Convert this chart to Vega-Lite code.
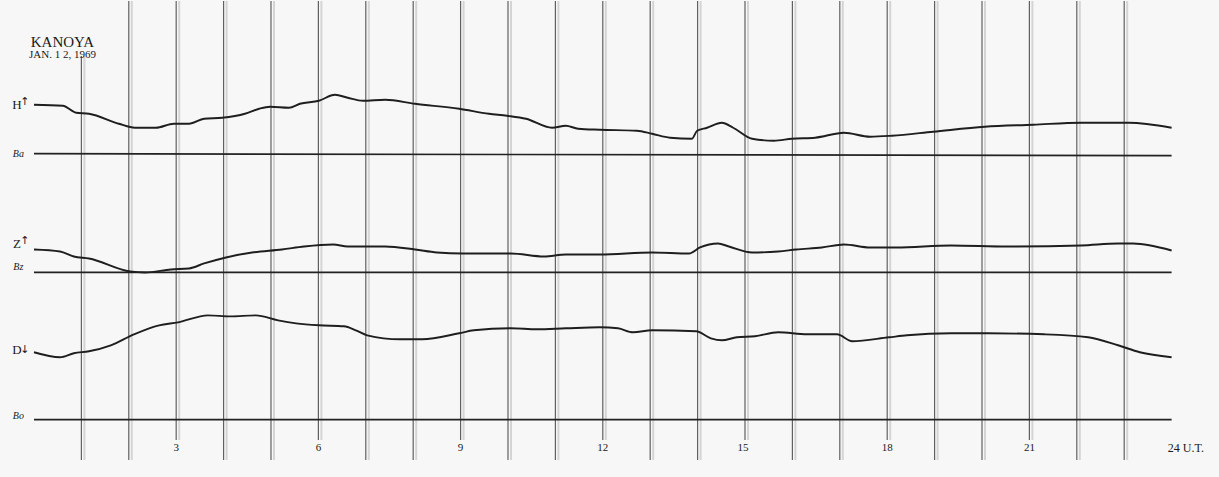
{
  "$schema": "https://vega.github.io/schema/vega-lite/v6.json",
  "width": 1219,
  "height": 477,
  "autosize": {"type": "fit", "contains": "padding"},
  "padding": 0,
  "background": "#f7f7f7",
  "config": {"view": {"stroke": null}, "text": {"font": "Liberation Serif", "color": "#1a1a1a"}},
  "datasets": {
    "grid": [
      {"h": 1, "y": 55, "y2": 460}, {"h": 2, "y": 0, "y2": 460}, {"h": 3, "y": 0, "y2": 440}, {"h": 4, "y": 0, "y2": 460},
      {"h": 5, "y": 0, "y2": 460}, {"h": 6, "y": 0, "y2": 440}, {"h": 7, "y": 0, "y2": 460}, {"h": 8, "y": 0, "y2": 460},
      {"h": 9, "y": 0, "y2": 440}, {"h": 10, "y": 0, "y2": 460}, {"h": 11, "y": 0, "y2": 460}, {"h": 12, "y": 0, "y2": 440},
      {"h": 13, "y": 0, "y2": 460}, {"h": 14, "y": 0, "y2": 460}, {"h": 15, "y": 0, "y2": 440}, {"h": 16, "y": 0, "y2": 460},
      {"h": 17, "y": 0, "y2": 460}, {"h": 18, "y": 0, "y2": 440}, {"h": 19, "y": 0, "y2": 460}, {"h": 20, "y": 0, "y2": 460},
      {"h": 21, "y": 0, "y2": 440}, {"h": 22, "y": 0, "y2": 460}, {"h": 23, "y": 0, "y2": 460}
    ],
    "baselines": [
      {"series": "Ba", "h": 0, "y": 153}, {"series": "Ba", "h": 24, "y": 155},
      {"series": "Bz", "h": 0, "y": 272}, {"series": "Bz", "h": 24, "y": 272},
      {"series": "Bo", "h": 0, "y": 419.5}, {"series": "Bo", "h": 24, "y": 419.5}
    ],
    "traces": [
      {"series": "H", "h": 0, "y": 104}, {"series": "H", "h": 0.61, "y": 105}, {"series": "H", "h": 0.89, "y": 112},
      {"series": "H", "h": 1.16, "y": 113}, {"series": "H", "h": 1.79, "y": 123}, {"series": "H", "h": 2.13, "y": 127},
      {"series": "H", "h": 2.57, "y": 127}, {"series": "H", "h": 2.95, "y": 123}, {"series": "H", "h": 3.27, "y": 123},
      {"series": "H", "h": 3.59, "y": 118}, {"series": "H", "h": 3.97, "y": 117}, {"series": "H", "h": 4.45, "y": 113},
      {"series": "H", "h": 4.75, "y": 108}, {"series": "H", "h": 4.98, "y": 106}, {"series": "H", "h": 5.38, "y": 107},
      {"series": "H", "h": 5.61, "y": 103}, {"series": "H", "h": 6.01, "y": 100}, {"series": "H", "h": 6.35, "y": 94},
      {"series": "H", "h": 6.62, "y": 97}, {"series": "H", "h": 6.94, "y": 100}, {"series": "H", "h": 7.41, "y": 99},
      {"series": "H", "h": 8.04, "y": 103}, {"series": "H", "h": 8.97, "y": 108}, {"series": "H", "h": 9.6, "y": 113},
      {"series": "H", "h": 9.98, "y": 115}, {"series": "H", "h": 10.38, "y": 118}, {"series": "H", "h": 10.93, "y": 127},
      {"series": "H", "h": 11.22, "y": 125}, {"series": "H", "h": 11.48, "y": 128}, {"series": "H", "h": 11.94, "y": 129},
      {"series": "H", "h": 12.72, "y": 130}, {"series": "H", "h": 13.04, "y": 133}, {"series": "H", "h": 13.42, "y": 137},
      {"series": "H", "h": 13.88, "y": 138}, {"series": "H", "h": 13.99, "y": 130}, {"series": "H", "h": 14.2, "y": 127},
      {"series": "H", "h": 14.51, "y": 122}, {"series": "H", "h": 14.75, "y": 127}, {"series": "H", "h": 15.15, "y": 138},
      {"series": "H", "h": 15.61, "y": 140}, {"series": "H", "h": 15.99, "y": 138}, {"series": "H", "h": 16.48, "y": 137},
      {"series": "H", "h": 17.09, "y": 132}, {"series": "H", "h": 17.64, "y": 136}, {"series": "H", "h": 18.1, "y": 135},
      {"series": "H", "h": 18.97, "y": 131}, {"series": "H", "h": 20.06, "y": 126}, {"series": "H", "h": 21.08, "y": 124},
      {"series": "H", "h": 22.09, "y": 122}, {"series": "H", "h": 23.1, "y": 122}, {"series": "H", "h": 24.0, "y": 127},

      {"series": "Z", "h": 0, "y": 249}, {"series": "Z", "h": 0.55, "y": 251}, {"series": "Z", "h": 0.84, "y": 256},
      {"series": "Z", "h": 1.16, "y": 258}, {"series": "Z", "h": 2.03, "y": 271}, {"series": "Z", "h": 2.34, "y": 272},
      {"series": "Z", "h": 2.89, "y": 269}, {"series": "Z", "h": 3.27, "y": 268}, {"series": "Z", "h": 3.59, "y": 263},
      {"series": "Z", "h": 4.05, "y": 257}, {"series": "Z", "h": 4.6, "y": 252}, {"series": "Z", "h": 5.23, "y": 249},
      {"series": "Z", "h": 5.7, "y": 246}, {"series": "Z", "h": 6.31, "y": 244}, {"series": "Z", "h": 6.62, "y": 246},
      {"series": "Z", "h": 7.41, "y": 246}, {"series": "Z", "h": 8.04, "y": 249}, {"series": "Z", "h": 8.5, "y": 252},
      {"series": "Z", "h": 9.05, "y": 253}, {"series": "Z", "h": 10.06, "y": 253}, {"series": "Z", "h": 10.76, "y": 256},
      {"series": "Z", "h": 11.22, "y": 254}, {"series": "Z", "h": 11.94, "y": 254}, {"series": "Z", "h": 13.04, "y": 252},
      {"series": "Z", "h": 13.82, "y": 253}, {"series": "Z", "h": 14.05, "y": 247}, {"series": "Z", "h": 14.43, "y": 243},
      {"series": "Z", "h": 14.66, "y": 246}, {"series": "Z", "h": 15.15, "y": 252}, {"series": "Z", "h": 15.7, "y": 251},
      {"series": "Z", "h": 16.08, "y": 249}, {"series": "Z", "h": 16.62, "y": 247}, {"series": "Z", "h": 17.09, "y": 244},
      {"series": "Z", "h": 17.64, "y": 247}, {"series": "Z", "h": 18.19, "y": 247}, {"series": "Z", "h": 19.35, "y": 245},
      {"series": "Z", "h": 20.53, "y": 246}, {"series": "Z", "h": 22.09, "y": 245}, {"series": "Z", "h": 22.87, "y": 243},
      {"series": "Z", "h": 23.19, "y": 243}, {"series": "Z", "h": 24.0, "y": 250},

      {"series": "D", "h": 0, "y": 352}, {"series": "D", "h": 0.55, "y": 357}, {"series": "D", "h": 0.84, "y": 353},
      {"series": "D", "h": 1.16, "y": 351}, {"series": "D", "h": 1.62, "y": 345}, {"series": "D", "h": 2.11, "y": 334},
      {"series": "D", "h": 2.64, "y": 325}, {"series": "D", "h": 3.04, "y": 322}, {"series": "D", "h": 3.67, "y": 315},
      {"series": "D", "h": 4.14, "y": 316}, {"series": "D", "h": 4.68, "y": 315}, {"series": "D", "h": 5.15, "y": 320},
      {"series": "D", "h": 5.53, "y": 323}, {"series": "D", "h": 6.01, "y": 325}, {"series": "D", "h": 6.54, "y": 326},
      {"series": "D", "h": 6.79, "y": 330}, {"series": "D", "h": 7.03, "y": 335}, {"series": "D", "h": 7.72, "y": 339},
      {"series": "D", "h": 8.19, "y": 339}, {"series": "D", "h": 8.97, "y": 333}, {"series": "D", "h": 9.28, "y": 330},
      {"series": "D", "h": 10.06, "y": 328}, {"series": "D", "h": 10.61, "y": 329}, {"series": "D", "h": 11.22, "y": 328},
      {"series": "D", "h": 11.94, "y": 327}, {"series": "D", "h": 12.32, "y": 328}, {"series": "D", "h": 12.64, "y": 332},
      {"series": "D", "h": 13.04, "y": 330}, {"series": "D", "h": 13.97, "y": 331}, {"series": "D", "h": 14.28, "y": 338},
      {"series": "D", "h": 14.51, "y": 340}, {"series": "D", "h": 14.83, "y": 337}, {"series": "D", "h": 15.21, "y": 336},
      {"series": "D", "h": 15.7, "y": 332}, {"series": "D", "h": 16.31, "y": 334}, {"series": "D", "h": 16.94, "y": 334},
      {"series": "D", "h": 17.26, "y": 341}, {"series": "D", "h": 18.04, "y": 337}, {"series": "D", "h": 18.42, "y": 335},
      {"series": "D", "h": 19.35, "y": 333}, {"series": "D", "h": 20.13, "y": 333}, {"series": "D", "h": 21.31, "y": 334},
      {"series": "D", "h": 22.24, "y": 337}, {"series": "D", "h": 22.87, "y": 345}, {"series": "D", "h": 23.33, "y": 352},
      {"series": "D", "h": 24.0, "y": 357}
    ],
    "traceLabels": [
      {"t": "H", "h": -0.36, "y": 104}, {"t": "Z", "h": -0.36, "y": 244}, {"t": "D", "h": -0.36, "y": 350}
    ],
    "arrows": [
      {"t": "↑", "h": -0.19, "y": 101}, {"t": "↑", "h": -0.19, "y": 241}, {"t": "↓", "h": -0.19, "y": 350}
    ],
    "baseLabels": [
      {"t": "Ba", "h": -0.33, "y": 153}, {"t": "Bz", "h": -0.33, "y": 267}, {"t": "Bo", "h": -0.33, "y": 416}
    ],
    "hourLabels": [
      {"t": "3", "h": 3.0, "y": 448}, {"t": "6", "h": 6.0, "y": 448}, {"t": "9", "h": 9.0, "y": 448},
      {"t": "12", "h": 12.0, "y": 448}, {"t": "15", "h": 14.96, "y": 448}, {"t": "18", "h": 18.0, "y": 448},
      {"t": "21", "h": 21.0, "y": 448}
    ],
    "utLabel": [{"t": "24 U.T.", "h": 23.92, "y": 448}],
    "station": [
      {"t": "KANOYA", "h": 0.6, "y": 41, "size": 15, "font": "Liberation Serif", "w": "normal"},
      {"t": "JAN. 1 2, 1969", "h": 0.6, "y": 54, "size": 11, "font": "DejaVu Sans Condensed", "w": "normal"}
    ]
  },
  "encoding": {
    "x": {"field": "h", "type": "quantitative", "axis": null, "scale": {"domain": [-0.717, 25.0], "nice": false, "zero": false}},
    "y": {"field": "y", "type": "quantitative", "axis": null, "scale": {"domain": [0, 477], "reverse": true, "nice": false, "zero": false}}
  },
  "layer": [
    {
      "data": {"name": "grid"},
      "mark": {"type": "rule", "color": "#d4d4d4", "strokeWidth": 2, "xOffset": 3},
      "encoding": {"y2": {"field": "y2"}}
    },
    {
      "data": {"name": "grid"},
      "mark": {"type": "rule", "color": "#606060", "strokeWidth": 1.2},
      "encoding": {"y2": {"field": "y2"}}
    },
    {
      "data": {"name": "baselines"},
      "mark": {"type": "line", "color": "#222", "strokeWidth": 1.7},
      "encoding": {"detail": {"field": "series"}}
    },
    {
      "data": {"name": "traces"},
      "mark": {"type": "line", "color": "#1e1e1e", "strokeWidth": 1.9, "interpolate": "monotone"},
      "encoding": {"detail": {"field": "series"}}
    },
    {
      "data": {"name": "traceLabels"},
      "mark": {"type": "text", "fontSize": 13, "align": "center", "baseline": "middle"},
      "encoding": {"text": {"field": "t"}}
    },
    {
      "data": {"name": "arrows"},
      "mark": {"type": "text", "fontSize": 11, "align": "center", "baseline": "middle", "font": "DejaVu Sans"},
      "encoding": {"text": {"field": "t"}}
    },
    {
      "data": {"name": "baseLabels"},
      "mark": {"type": "text", "fontSize": 10, "align": "center", "baseline": "middle", "fontStyle": "italic"},
      "encoding": {"text": {"field": "t"}}
    },
    {
      "data": {"name": "hourLabels"},
      "mark": {"type": "text", "fontSize": 11, "align": "center", "baseline": "middle"},
      "encoding": {"text": {"field": "t"}}
    },
    {
      "data": {"name": "utLabel"},
      "mark": {"type": "text", "fontSize": 12, "align": "left", "baseline": "middle"},
      "encoding": {"text": {"field": "t"}}
    },
    {
      "data": {"name": "station"},
      "mark": {"type": "text", "align": "center", "baseline": "middle"},
      "encoding": {
        "text": {"field": "t"},
        "font": {"field": "font"},
        "size": {"field": "size", "type": "quantitative", "scale": null}
      }
    }
  ]
}
